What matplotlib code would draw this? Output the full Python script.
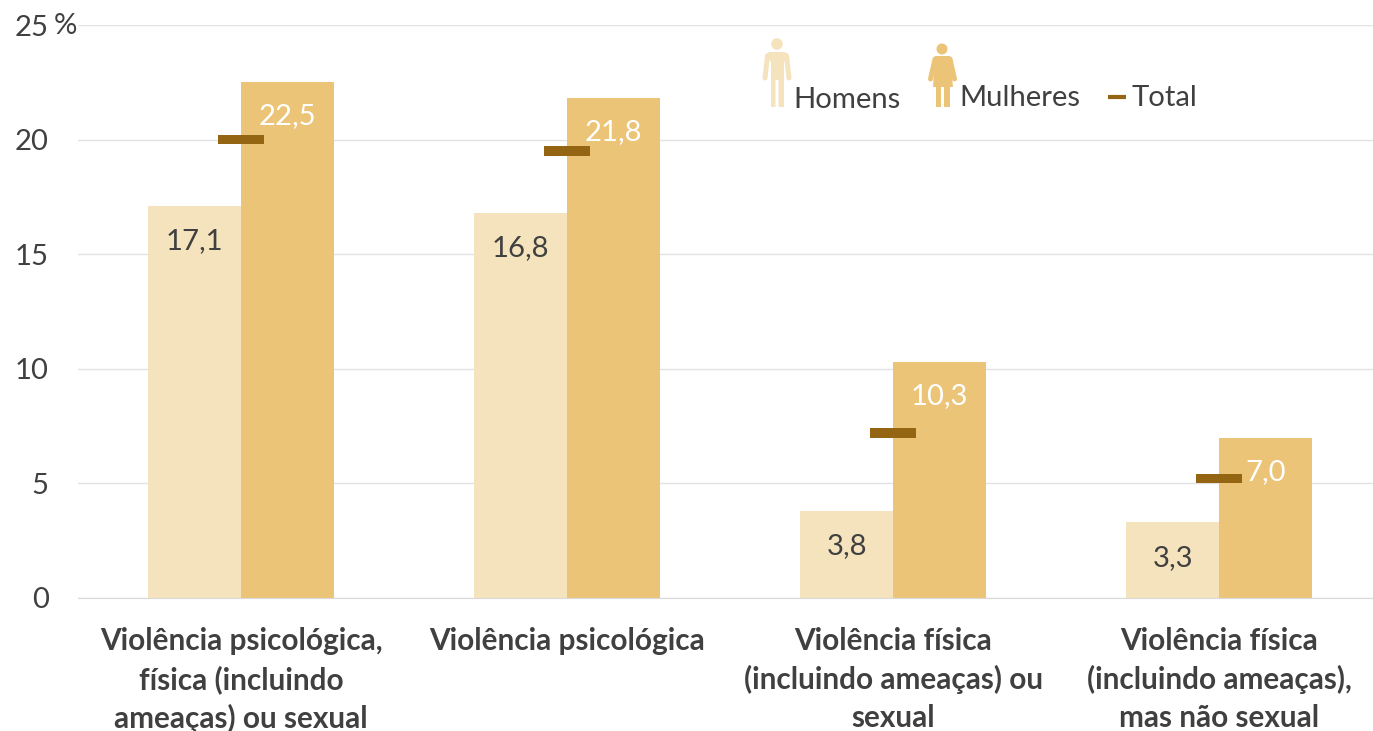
import matplotlib.pyplot as plt
import numpy as np
from matplotlib.patches import Circle, Polygon

plt.rcParams['font.family'] = ['Lato', 'DejaVu Sans']

categories = ['Violência psicológica,\nfísica (incluindo\nameaças) ou sexual',
              'Violência psicológica',
              'Violência física\n(incluindo ameaças) ou\nsexual',
              'Violência física\n(incluindo ameaças),\nmas não sexual']
homens = [17.1, 16.8, 3.8, 3.3]
mulheres = [22.5, 21.8, 10.3, 7.0]
total = [20.0, 19.5, 7.2, 5.2]
y_ticks = [0, 5, 10, 15, 20, 25]

COLOR_H = '#f5e3bd'
COLOR_M = '#ecc477'
COLOR_T = '#946614'
COLOR_TEXT = '#404040'
W, H = 1373, 731
STEP = 326.1
FS = 21.1


def fmt(v):
    return f'{v:.1f}'.replace('.', ',')


fig = plt.figure(figsize=(W / 100, H / 100), dpi=100)
ax = fig.add_axes([78 / W, 1 - 598 / H, (W - 78) / W, (598 - 25) / H])
x = np.arange(len(categories))
bw = 93 / STEP

ax.bar(x - bw / 2, homens, bw, color=COLOR_H, zorder=2)
ax.bar(x + bw / 2, mulheres, bw, color=COLOR_M, zorder=2)
ax.bar(x, [0.4] * 4, 46 / STEP, bottom=np.array(total) - 0.2, color=COLOR_T, zorder=3)

for i in x:
    ax.annotate(fmt(homens[i]), (i - bw / 2, homens[i]), xytext=(0, -25.5), textcoords='offset points',
                ha='center', va='center', fontsize=FS, color=COLOR_TEXT, zorder=4)
    ax.annotate(fmt(mulheres[i]), (i + bw / 2, mulheres[i]), xytext=(0, -24.5), textcoords='offset points',
                ha='center', va='center', fontsize=FS, color='white', zorder=4)

ax.set_xlim(-0.5, -0.5 + (W - 78) / STEP)
ax.set_ylim(0, 25)
ax.set_yticks(y_ticks)
ax.set_xticks(x)
ax.set_xticklabels(categories, fontsize=21.4, fontweight='bold', color=COLOR_TEXT, linespacing=1.42, va='top')
ax.tick_params(axis='x', length=0, pad=21)
ax.tick_params(axis='y', length=0, pad=21, labelsize=FS, labelcolor=COLOR_TEXT)
ax.grid(axis='y', color='#e2e2e2', linewidth=1, zorder=0)
for s in ['top', 'right', 'left']:
    ax.spines[s].set_visible(False)
ax.spines['bottom'].set_color('#d9d9d9')

# overlay in pixel coordinates for the legend
ov = fig.add_axes([0, 0, 1, 1])
ov.set_xlim(0, W)
ov.set_ylim(H, 0)
ov.axis('off')
ov.text(54, 26, '%', fontsize=FS, color=COLOR_TEXT, ha='left', va='center')

# man icon
ov.add_patch(Circle((777, 44), 5.8, color=COLOR_H, lw=0))
ov.add_patch(Polygon([(769, 52), (785, 52), (789, 55), (784, 62), (784, 107), (778.5, 107), (778.5, 80),
                      (775.5, 80), (775.5, 107), (771, 107), (771, 62), (765, 55)], color=COLOR_H, lw=0))
ov.plot([767.5, 765], [56, 78], color=COLOR_H, lw=3.6, solid_capstyle='round')
ov.plot([786.5, 789], [56, 78], color=COLOR_H, lw=3.6, solid_capstyle='round')

# woman icon
ov.add_patch(Circle((942, 49), 5.5, color=COLOR_M, lw=0))
ov.add_patch(Polygon([(935, 56), (950, 56), (953, 87), (950, 87), (950, 107), (944, 107), (944, 87),
                      (941, 87), (941, 107), (936, 107), (936, 87), (933, 87)], color=COLOR_M, lw=0))
ov.plot([935, 930.5], [59, 79], color=COLOR_M, lw=3.6, solid_capstyle='round')
ov.plot([950, 954.5], [59, 79], color=COLOR_M, lw=3.6, solid_capstyle='round')

ov.text(793, 100.5, 'Homens', fontsize=FS, color=COLOR_TEXT, ha='left', va='center')
ov.text(959, 98.5, 'Mulheres', fontsize=FS, color=COLOR_TEXT, ha='left', va='center')
ov.plot([1108, 1126], [97, 97], color=COLOR_T, lw=3, solid_capstyle='butt')
ov.text(1132, 98.5, 'Total', fontsize=FS, color=COLOR_TEXT, ha='left', va='center')

fig.savefig('out.png', dpi=100)
